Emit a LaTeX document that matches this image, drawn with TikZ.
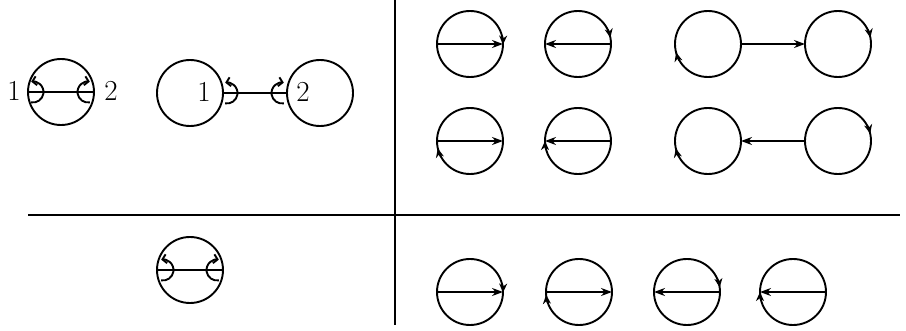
\documentclass[tikz,border=0pt]{standalone}
\usetikzlibrary{arrows.meta}
\begin{document}
\begin{tikzpicture}[x=1pt,y=1pt,line width=1.9pt,
  circ/.style={draw,circle,minimum size=66pt,inner sep=0pt,outer sep=0pt},
  larrow/.style={-{Stealth[length=11pt,width=8pt]}},
  carrow/.style={-{Stealth[length=9pt,width=8pt]}},
  hookarrow/.style={-{Straight Barb[length=4pt,width=9pt]}},
  lab/.style={font=\fontsize{29}{34}\selectfont,inner sep=0pt}]
\useasboundingbox (0,0) rectangle (906,330);
% dividers
\coordinate (vt) at (395,330);
\coordinate (vb) at (395,5);
\coordinate (hl) at (28,115);
\coordinate (hr) at (900,115);
\draw[line width=1.7pt] (vt) -- (vb);
\draw[line width=1.7pt] (hl) -- (hr);
% diagram 1
\node[circ] (d1) at (61,238) {};
\draw (d1.west) -- (d1.east);
\coordinate (h1l) at (33,238);
\coordinate (h1r) at (88,238);
\draw[hookarrow] ([shift={(-100:10.5pt)}]h1l) arc[start angle=-100, end angle=100, radius=10.5pt];
\draw[hookarrow] ([shift={(-80:10.5pt)}]h1r) arc[start angle=-80, end angle=-280, radius=10.5pt];
\node[lab] (l1) at (14,239) {1};
\node[lab] (l2) at (111,239) {2};
% diagram 2
\node[circ] (d2a) at (190,237) {};
\node[circ] (d2b) at (320,237) {};
\draw (d2a.east) -- (d2b.west);
\coordinate (h2l) at (227,237);
\coordinate (h2r) at (282,237);
\draw[hookarrow] ([shift={(-100:10.5pt)}]h2l) arc[start angle=-100, end angle=100, radius=10.5pt];
\draw[hookarrow] ([shift={(-80:10.5pt)}]h2r) arc[start angle=-80, end angle=-280, radius=10.5pt];
\node[lab] (l3) at (204,238) {1};
\node[lab] (l4) at (303,238) {2};
% diagram 3
\node[circ] (d3) at (190,60) {};
\draw (d3.west) -- (d3.east);
\coordinate (h3l) at (163,60);
\coordinate (h3r) at (217,60);
\draw[hookarrow] ([shift={(-100:10.5pt)}]h3l) arc[start angle=-100, end angle=100, radius=10.5pt];
\draw[hookarrow] ([shift={(-80:10.5pt)}]h3r) arc[start angle=-80, end angle=-280, radius=10.5pt];
% right top rows
\node[circ] (a1) at (470,286) {};
\node[circ] (a2) at (578,286) {};
\node[circ] (a3) at (708,286) {};
\node[circ] (a4) at (838,286) {};
\node[circ] (b1) at (470,189) {};
\node[circ] (b2) at (578,189) {};
\node[circ] (b3) at (708,189) {};
\node[circ] (b4) at (838,189) {};
\draw[larrow] (a1.west) -- (a1.east);
\draw[larrow] (a2.east) -- (a2.west);
\draw[larrow] (a3.east) -- (a4.west);
\draw[larrow] (b1.west) -- (b1.east);
\draw[larrow] (b2.east) -- (b2.west);
\draw[larrow] (b4.west) -- (b3.east);
% circle orientation arrows (clockwise)
\draw[carrow] ([shift={(14:33pt)}]a1) arc[start angle=14, end angle=-1, radius=33pt];
\draw[carrow] ([shift={(26:33pt)}]a2) arc[start angle=26, end angle=11, radius=33pt];
\draw[carrow] ([shift={(210:33pt)}]a3) arc[start angle=210, end angle=195, radius=33pt];
\draw[carrow] ([shift={(26:33pt)}]a4) arc[start angle=26, end angle=11, radius=33pt];
\draw[carrow] ([shift={(208:33pt)}]b1) arc[start angle=208, end angle=193, radius=33pt];
\draw[carrow] ([shift={(195:33pt)}]b2) arc[start angle=195, end angle=180, radius=33pt];
\draw[carrow] ([shift={(208:33pt)}]b3) arc[start angle=208, end angle=193, radius=33pt];
\draw[carrow] ([shift={(28:33pt)}]b4) arc[start angle=28, end angle=13, radius=33pt];
% bottom row
\node[circ] (c1) at (470,38) {};
\node[circ] (c2) at (579,38) {};
\node[circ] (c3) at (687,38) {};
\node[circ] (c4) at (793,38) {};
\draw[larrow] (c1.west) -- (c1.east);
\draw[larrow] (c2.west) -- (c2.east);
\draw[larrow] (c3.east) -- (c3.west);
\draw[larrow] (c4.east) -- (c4.west);
\draw[carrow] ([shift={(14:33pt)}]c1) arc[start angle=14, end angle=-1, radius=33pt];
\draw[carrow] ([shift={(200:33pt)}]c2) arc[start angle=200, end angle=185, radius=33pt];
\draw[carrow] ([shift={(23:33pt)}]c3) arc[start angle=23, end angle=8, radius=33pt];
\draw[carrow] ([shift={(195:33pt)}]c4) arc[start angle=195, end angle=180, radius=33pt];
\end{tikzpicture}
\end{document}
